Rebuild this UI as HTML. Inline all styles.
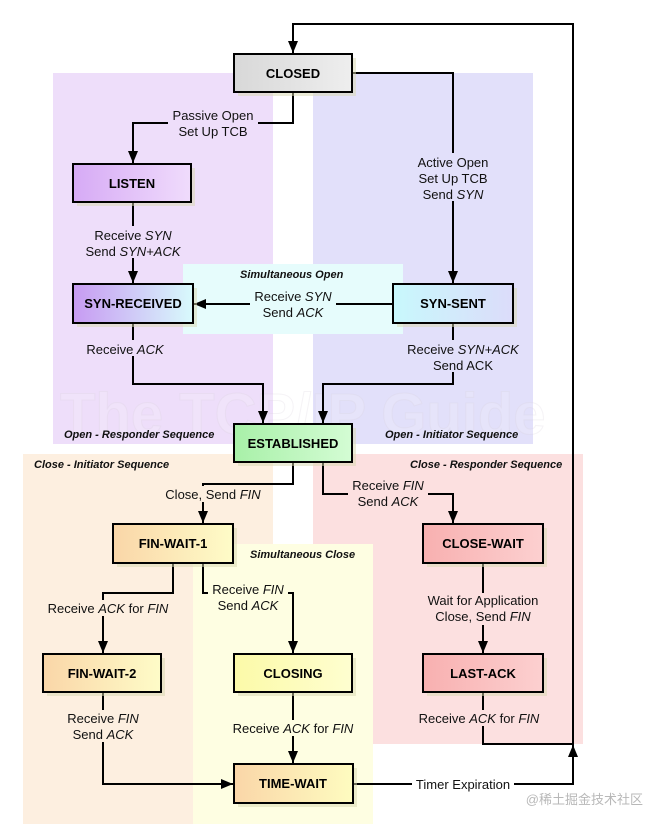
<!DOCTYPE html>
<html><head><meta charset="utf-8"><style>
html,body{margin:0;padding:0;background:#fff;}
svg{display:block;font-family:"Liberation Sans",Arial,sans-serif;}
.b{font-weight:bold;font-size:13px;text-anchor:middle;}
.l{font-size:13px;text-anchor:middle;fill:#111;}
.s{font-size:11px;font-weight:bold;font-style:italic;fill:#111;}
.ln{fill:none;stroke:#000;stroke-width:2;}
</style></head><body>
<svg width="665" height="829" viewBox="0 0 665 829" xmlns="http://www.w3.org/2000/svg">
<defs>
<marker id="a" viewBox="0 0 12 10" refX="12" refY="5" markerWidth="12" markerHeight="10" orient="auto" markerUnits="userSpaceOnUse"><path d="M0,0L12,5L0,10z"/></marker>
<linearGradient id="gGray" x1="0" x2="1"><stop offset="0" stop-color="#d8d8d8"/><stop offset="1" stop-color="#eeeeee"/></linearGradient>
<linearGradient id="gPur" x1="0" x2="1"><stop offset="0" stop-color="#d6aaf5"/><stop offset="1" stop-color="#f0dcfc"/></linearGradient>
<linearGradient id="gSR" x1="0" x2="1"><stop offset="0" stop-color="#c79af2"/><stop offset="1" stop-color="#d8fafc"/></linearGradient>
<linearGradient id="gSS" x1="0" x2="1"><stop offset="0" stop-color="#c8f8fc"/><stop offset="1" stop-color="#dcdcfa"/></linearGradient>
<linearGradient id="gGr" x1="0" x2="1"><stop offset="0" stop-color="#a8f0a8"/><stop offset="1" stop-color="#d4fcd4"/></linearGradient>
<linearGradient id="gOr" x1="0" x2="1"><stop offset="0" stop-color="#fad6a8"/><stop offset="1" stop-color="#fefcc8"/></linearGradient>
<linearGradient id="gPk" x1="0" x2="1"><stop offset="0" stop-color="#f8b0b0"/><stop offset="1" stop-color="#fcd0d0"/></linearGradient>
<linearGradient id="gYe" x1="0" x2="1"><stop offset="0" stop-color="#fcfaa8"/><stop offset="1" stop-color="#fefed0"/></linearGradient>
<linearGradient id="gTW" x1="0" x2="1"><stop offset="0" stop-color="#fad6a8"/><stop offset="1" stop-color="#fefcc0"/></linearGradient>
</defs>
<rect x="53" y="73" width="220" height="371" fill="#eedefa"/>
<rect x="313" y="73" width="220" height="371" fill="#e2e0fa"/>
<rect x="183" y="264" width="220" height="70" fill="#e6fcfc"/>
<rect x="23" y="454" width="250" height="370" fill="#fdefe0"/>
<rect x="313" y="454" width="270" height="290" fill="#fce0e0"/>
<rect x="193" y="544" width="180" height="280" fill="#fefee2"/>
<text x="60" y="434" font-size="58" font-weight="bold" fill="#ffffff" fill-opacity="0.15" stroke="#d8d0dc" stroke-opacity="0.25" stroke-width="1">The TCP/IP Guide</text>
<text x="240" y="278" class="s" text-anchor="start">Simultaneous Open</text>
<text x="64" y="438" class="s">Open - Responder Sequence</text>
<text x="385" y="438" class="s">Open - Initiator Sequence</text>
<text x="34" y="468" class="s">Close - Initiator Sequence</text>
<text x="410" y="468" class="s">Close - Responder Sequence</text>
<text x="250" y="558" class="s">Simultaneous Close</text>

<g class="ln">
<path d="M353,784H573V24H293V53" marker-end="url(#a)"/>
<path d="M293,92V123H133V163" marker-end="url(#a)"/>
<path d="M352,73H453V283" marker-end="url(#a)"/>
<path d="M133,202V283" marker-end="url(#a)"/>
<path d="M393,304H194" marker-end="url(#a)"/>
<path d="M133,323V384H263V423" marker-end="url(#a)"/>
<path d="M453,323V384H323V423" marker-end="url(#a)"/>
<path d="M293,462V484H203V523" marker-end="url(#a)"/>
<path d="M323,462V494H453V523" marker-end="url(#a)"/>
<path d="M173,563V593H103V653" marker-end="url(#a)"/>
<path d="M203,563V593H293V653" marker-end="url(#a)"/>
<path d="M483,563V653" marker-end="url(#a)"/>
<path d="M103,692V784H233" marker-end="url(#a)"/>
<path d="M293,692V763" marker-end="url(#a)"/>
<path d="M483,692V744H573"/>
<path d="M573,770V745" marker-end="url(#a)"/>
</g>

<g class="l">
<rect x="168" y="106" width="90" height="32" fill="#eedefa"/>
<text x="213" y="120">Passive Open</text><text x="213" y="136">Set Up TCB</text>
<rect x="413" y="153" width="80" height="48" fill="#e2e0fa"/>
<text x="453" y="167">Active Open</text><text x="453" y="183">Set Up TCB</text><text x="453" y="199">Send <tspan font-style="italic">SYN</tspan></text>
<rect x="83" y="226" width="100" height="32" fill="#eedefa"/>
<text x="133" y="240">Receive <tspan font-style="italic">SYN</tspan></text><text x="133" y="256">Send <tspan font-style="italic">SYN+ACK</tspan></text>
<rect x="250" y="287" width="86" height="32" fill="#e6fcfc"/>
<text x="293" y="301">Receive <tspan font-style="italic">SYN</tspan></text><text x="293" y="317">Send <tspan font-style="italic">ACK</tspan></text>
<rect x="82" y="340" width="86" height="16" fill="#eedefa"/>
<text x="125" y="354">Receive <tspan font-style="italic">ACK</tspan></text>
<rect x="402" y="340" width="122" height="32" fill="#e2e0fa"/>
<text x="463" y="354">Receive <tspan font-style="italic">SYN+ACK</tspan></text><text x="463" y="370">Send ACK</text>
<rect x="160" y="486" width="106" height="16" fill="#fdefe0"/>
<text x="213" y="499">Close, Send <tspan font-style="italic">FIN</tspan></text>
<rect x="348" y="477" width="80" height="32" fill="#fce0e0"/>
<text x="388" y="490">Receive <tspan font-style="italic">FIN</tspan></text><text x="388" y="506">Send <tspan font-style="italic">ACK</tspan></text>
<rect x="42" y="600" width="132" height="16" fill="#fdefe0"/>
<text x="108" y="613">Receive <tspan font-style="italic">ACK</tspan> for <tspan font-style="italic">FIN</tspan></text>
<rect x="208" y="582" width="80" height="32" fill="#fefee2"/>
<text x="248" y="594">Receive <tspan font-style="italic">FIN</tspan></text><text x="248" y="610">Send <tspan font-style="italic">ACK</tspan></text>
<rect x="420" y="593" width="126" height="32" fill="#fce0e0"/>
<text x="483" y="605">Wait for Application</text><text x="483" y="621">Close, Send <tspan font-style="italic">FIN</tspan></text>
<rect x="62" y="710" width="82" height="32" fill="#fdefe0"/>
<text x="103" y="723">Receive <tspan font-style="italic">FIN</tspan></text><text x="103" y="739">Send <tspan font-style="italic">ACK</tspan></text>
<rect x="227" y="720" width="134" height="16" fill="#fefee2"/>
<text x="293" y="733">Receive <tspan font-style="italic">ACK</tspan> for <tspan font-style="italic">FIN</tspan></text>
<rect x="412" y="710" width="134" height="16" fill="#fce0e0"/>
<text x="479" y="723">Receive <tspan font-style="italic">ACK</tspan> for <tspan font-style="italic">FIN</tspan></text>
<rect x="412" y="776" width="102" height="16" fill="#fff"/>
<text x="463" y="789">Timer Expiration</text>
</g>

<g stroke="#000" stroke-width="2">
<g fill="#d8d8b0" stroke="none" opacity="0.5">
<rect x="238" y="58" width="118" height="38"/><rect x="77" y="168" width="118" height="38"/>
<rect x="77" y="288" width="120" height="39"/><rect x="397" y="288" width="120" height="39"/>
<rect x="238" y="428" width="118" height="38"/><rect x="117" y="528" width="120" height="39"/>
<rect x="427" y="528" width="120" height="39"/><rect x="47" y="658" width="118" height="38"/>
<rect x="238" y="658" width="118" height="38"/><rect x="427" y="658" width="120" height="38"/>
<rect x="238" y="768" width="119" height="39"/>
</g>
<rect x="234" y="54" width="118" height="38" fill="url(#gGray)"/>
<rect x="73" y="164" width="118" height="38" fill="url(#gPur)"/>
<rect x="73" y="284" width="120" height="39" fill="url(#gSR)"/>
<rect x="393" y="284" width="120" height="39" fill="url(#gSS)"/>
<rect x="234" y="424" width="118" height="38" fill="url(#gGr)"/>
<rect x="113" y="524" width="120" height="39" fill="url(#gOr)"/>
<rect x="423" y="524" width="120" height="39" fill="url(#gPk)"/>
<rect x="43" y="654" width="118" height="38" fill="url(#gOr)"/>
<rect x="234" y="654" width="118" height="38" fill="url(#gYe)"/>
<rect x="423" y="654" width="120" height="38" fill="url(#gPk)"/>
<rect x="234" y="764" width="119" height="39" fill="url(#gTW)"/>
</g>
<g class="b">
<text x="293" y="78">CLOSED</text>
<text x="132" y="188">LISTEN</text>
<text x="133" y="308">SYN-RECEIVED</text>
<text x="453" y="308">SYN-SENT</text>
<text x="293" y="448">ESTABLISHED</text>
<text x="173" y="548">FIN-WAIT-1</text>
<text x="483" y="548">CLOSE-WAIT</text>
<text x="102" y="678">FIN-WAIT-2</text>
<text x="293" y="678">CLOSING</text>
<text x="483" y="678">LAST-ACK</text>
<text x="293" y="788">TIME-WAIT</text>
</g>
<text x="643" y="804" font-size="13" fill="#b8b8b8" text-anchor="end" font-family="'Liberation Sans','Noto Sans CJK SC',sans-serif">@稀土掘金技术社区</text>
</svg>
</body></html>
